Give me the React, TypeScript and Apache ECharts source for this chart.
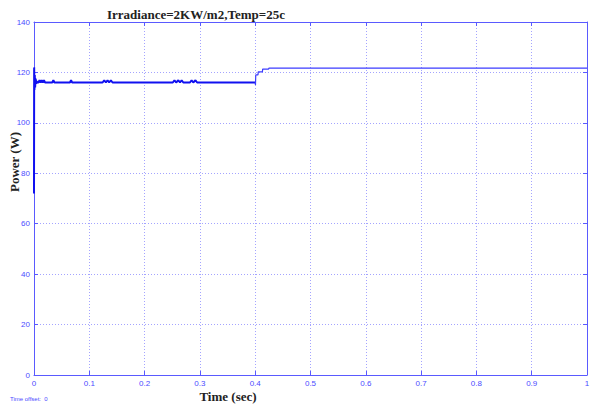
import React, { useEffect, useRef } from "react";
import * as echarts from "echarts";

const titleText = "Irradiance=2KW/m2,Temp=25c";
const xName = "Time (sec)";
const yName = "Power (W)";
const offsetText = "Time offset:  0";

// Phase 1: MPPT tracking at the first operating point (thick trace)
const t1 = [0, 0.0003, 0.0008, 0.0014, 0.002, 0.003, 0.004, 0.005, 0.006, 0.008, 0.01, 0.012, 0.014, 0.016, 0.018, 0.02, 0.033, 0.035, 0.037, 0.065, 0.067, 0.069, 0.124, 0.127, 0.13, 0.133, 0.136, 0.139, 0.142, 0.251, 0.254, 0.257, 0.261, 0.264, 0.267, 0.27, 0.282, 0.285, 0.288, 0.292, 0.295, 0.4];
const p1 = [72, 122, 113, 119, 114, 117.5, 115.5, 116.5, 116, 116, 116.9, 116, 116.9, 116, 116.9, 116, 116, 116.9, 116, 116, 116.9, 116, 116, 116.9, 116, 116.9, 116, 116.9, 116, 116, 116.9, 116, 116.9, 116, 116.9, 116, 116, 116.9, 116, 116.9, 116, 116];

// Phase 2: step to the new operating point (thin trace)
const t2 = [0.4, 0.4005, 0.401, 0.405, 0.4055, 0.413, 0.4135, 0.424, 0.425, 1];
const p2 = [116, 115, 119, 119, 120.2, 120.2, 121.3, 121.3, 121.7, 121.7];

const xTicks = [0, 0.1, 0.2, 0.3, 0.4, 0.5, 0.6, 0.7, 0.8, 0.9, 1];
const yTicks = [0, 20, 40, 60, 80, 100, 120, 140];

export default function App() {
  const ref = useRef<HTMLDivElement>(null);
  useEffect(() => {
    if (!ref.current) return;
    const chart = echarts.init(ref.current, undefined, { renderer: "svg" });
    const axisBlue = "#5a5aff";
    const labelBlue = "#4b4bff";
    const gridBlue = "#a4a4ff";
    const xMin = xTicks[0];
    const xMax = xTicks[xTicks.length - 1];
    const yMin = yTicks[0];
    const yMax = yTicks[yTicks.length - 1];
    const labelFont = { color: labelBlue, fontSize: 8, fontFamily: "Liberation Sans, Arial, sans-serif" };
    const serifBold = "bold 13px 'Liberation Serif', 'Times New Roman', serif";
    chart.setOption({
      animation: false,
      backgroundColor: "#ffffff",
      grid: { left: 34, right: 8, top: 22, bottom: 32, containLabel: false },
      xAxis: [
        {
          type: "value",
          min: xMin,
          max: xMax,
          interval: 0.1,
          axisLine: { show: true, lineStyle: { color: axisBlue, width: 1 } },
          axisTick: { show: true, inside: true, length: 4, lineStyle: { color: axisBlue } },
          axisLabel: { ...labelFont, margin: 4, formatter: (v: number) => String(Math.round(v * 10) / 10) },
          splitLine: { show: true, lineStyle: { color: gridBlue, type: [1, 2], width: 1 } },
        },
        {
          type: "value",
          position: "top",
          min: xMin,
          max: xMax,
          interval: 0.1,
          axisLine: { show: true, onZero: false, lineStyle: { color: axisBlue, width: 1 } },
          axisTick: { show: true, inside: true, length: 4, lineStyle: { color: axisBlue } },
          axisLabel: { show: false },
          splitLine: { show: false },
        },
      ],
      yAxis: [
        {
          type: "value",
          min: yMin,
          max: yMax,
          interval: 20,
          axisLine: { show: true, lineStyle: { color: axisBlue, width: 1 } },
          axisTick: { show: true, inside: true, length: 4, lineStyle: { color: axisBlue } },
          axisLabel: { ...labelFont, margin: 4 },
          splitLine: { show: true, lineStyle: { color: gridBlue, type: [1, 2], width: 1 } },
        },
        {
          type: "value",
          position: "right",
          min: yMin,
          max: yMax,
          interval: 20,
          axisLine: { show: true, onZero: false, lineStyle: { color: axisBlue, width: 1 } },
          axisTick: { show: true, inside: true, length: 4, lineStyle: { color: axisBlue } },
          axisLabel: { show: false },
          splitLine: { show: false },
        },
      ],
      series: [
        {
          type: "line",
          data: t1.map((t, i) => [t, p1[i]]),
          showSymbol: false,
          lineStyle: { color: "#1010f0", width: 2 },
          z: 3,
        },
        {
          type: "line",
          data: t2.map((t, i) => [t, p2[i]]),
          showSymbol: false,
          lineStyle: { color: "#3c3cff", width: 1.2 },
          z: 3,
        },
      ],
      graphic: [
        {
          type: "text",
          x: 107,
          y: 14,
          style: { text: titleText, font: serifBold, fill: "#222222", textVerticalAlign: "middle" },
        },
        {
          type: "text",
          x: 14,
          y: 162,
          rotation: Math.PI / 2,
          style: { text: yName, font: serifBold, fill: "#222222", textAlign: "center", textVerticalAlign: "middle" },
        },
        {
          type: "text",
          x: 228,
          y: 396,
          style: { text: xName, font: serifBold, fill: "#222222", textAlign: "center", textVerticalAlign: "middle" },
        },
        {
          type: "text",
          x: 10,
          y: 399,
          style: {
            text: offsetText,
            font: "6px 'Liberation Sans', Arial, sans-serif",
            fill: labelBlue,
            textVerticalAlign: "middle",
          },
        },
      ],
    });
    return () => chart.dispose();
  }, []);
  return <div ref={ref} style={{ width: 595, height: 407, position: "absolute", left: 0, top: 0 }} />;
}
